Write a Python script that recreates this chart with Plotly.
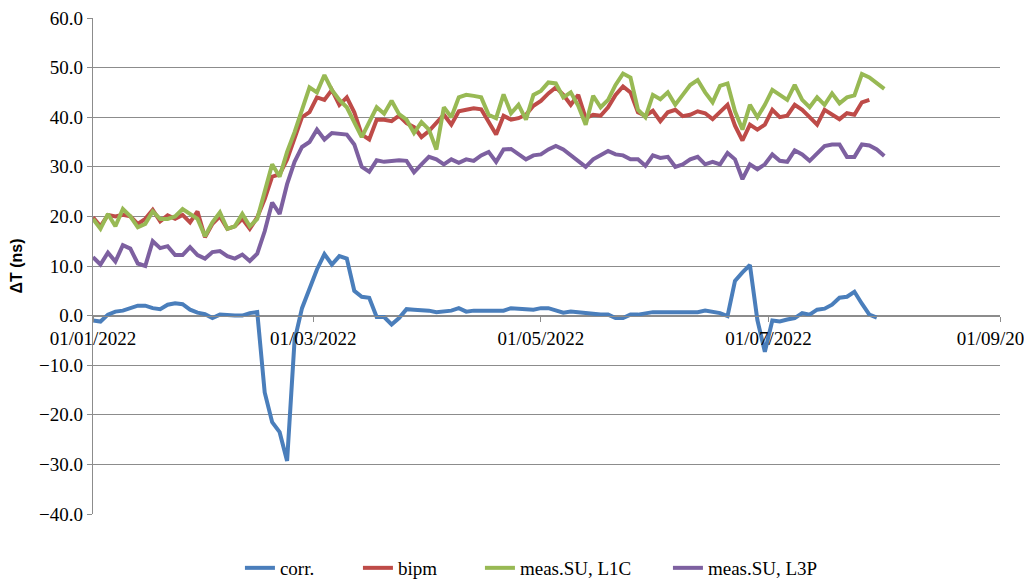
import pandas as pd
import plotly.graph_objects as go

# Values read every 2 days starting 01/01/2022
start_date = "2022-01-01"
step = "2D"

corr = [-1, -1.2, 0.2, 0.8, 1, 1.5, 2, 2, 1.5, 1.3,
        2.2, 2.5, 2.3, 1.2, 0.6, 0.3, -0.5, 0.2, 0, 0,
        0, 0.5, 0.7, -15.5, -21.5, -23.5, -29.3, -5, 1.5, 5.5,
        9.3, 12.4, 10.3, 12, 11.5, 5, 3.8, 3.6, -0.3, -0.3,
        -1.8, -0.5, 1.3, 1.2, 1.2, 1, 0.7, 0.8, 1, 1.5,
        0.8, 1, 1, 1, 1, 1, 1.5, 1.5, 1.3, 1.2,
        1.5, 1.5, 1, 0.6, 0.8, 0.6, 0.5, 0.3, 0.2, 0.2,
        -0.5, -0.5, 0.2, 0.2, 0.5, 0.7, 0.7, 0.7, 0.7, 0.5,
        0.6, 0.7, 1, 0.8, 0.5, -0.1, 7, 8.7, 10.2, -0.9,
        -7.3, -1, -1.2, -0.8, -0.5, 0.5, 0.2, 1.2, 1.4, 2.2,
        3.6, 3.8, 4.8, 2.4, 0.2, -0.4]

bipm = [19.8, 18, 20.3, 20, 20.3, 20, 18.5, 19.5, 21.3, 19,
        20.2, 19.5, 20.3, 18.8, 21, 15.8, 18.5, 20, 17.5, 18,
        19.5, 17.5, 19.8, 23.5, 28, 28.5, 31.5, 35.5, 40, 41,
        44, 43.5, 45.5, 42.5, 44, 41, 36.5, 35.5, 39.5, 39.5,
        39.2, 40.3, 38.8, 38, 36, 37.2, 39, 40.5, 38.5, 41.2,
        41.5, 41.8, 41.6, 39, 36.5, 40.3, 39.5, 39.8, 40.5, 42.3,
        43.3, 44.8, 46, 44.5, 42.5, 44.5, 39.8, 40.5, 40.3, 42,
        44.5, 46.2, 45, 41, 40.3, 41.3, 39.2, 41, 41.5, 40.2,
        40.5, 41.2, 40.8, 39.6, 41, 42.5, 38.3, 35.3, 38.5, 37.5,
        38.5, 41.5, 40, 40.3, 42.5, 41.5, 40, 38.5, 41.5, 40.5,
        39.6, 40.8, 40.5, 43, 43.5]

meas_l1c = [19.5, 17.5, 20.5, 18, 21.5, 20, 17.8, 18.5, 21, 19.5,
            19.5, 20, 21.5, 20.5, 19.5, 16, 18.8, 20.8, 17.5, 18,
            20.5, 18, 19.5, 25, 30.5, 28, 33, 37, 41.5, 46,
            45, 48.5, 45.5, 43.5, 42, 39, 36, 39, 42, 40.7,
            43.3, 40.6, 39.5, 36.8, 39, 37.5, 33.5, 42, 40, 44,
            44.5, 44.3, 44, 40.5, 39.8, 44.6, 40.8, 42.5, 39.5, 44.5,
            45.3, 47, 46.8, 44, 45, 42.3, 38.5, 44.3, 42, 43.5,
            46.5, 48.8, 48, 41.5, 40, 44.5, 43.6, 45, 42.5, 44.5,
            46.5, 47.5, 45, 43, 46.3, 46.8, 41.2, 37.5, 42.5, 40,
            42.5, 45.5, 44.6, 43.5, 46.5, 43.5, 42, 44, 42.5, 44.8,
            42.8, 44, 44.4, 48.7, 48, 46.8, 45.7]

meas_l3p = [11.8, 10.3, 12.7, 10.9, 14.2, 13.5, 10.5, 10, 15, 13.6,
            14, 12.2, 12.2, 13.8, 12.2, 11.5, 12.8, 13, 12, 11.5,
            12.3, 11, 12.5, 17, 22.8, 20.5, 26.5, 31, 34, 35,
            37.5, 35.5, 36.8, 36.6, 36.5, 34.5, 30, 29, 31.3, 31,
            31.2, 31.3, 31.2, 28.9, 30.5, 32, 31.5, 30.5, 31.5, 30.8,
            31.5, 31.2, 32.3, 33, 31, 33.5, 33.6, 32.5, 31.5, 32.3,
            32.5, 33.5, 34.2, 33.5, 32.3, 31.2, 30, 31.5, 32.3, 33.2,
            32.5, 32.3, 31.5, 31.5, 30.2, 32.3, 31.8, 32, 30, 30.5,
            31.5, 32, 30.5, 31, 30.5, 32.8, 31.5, 27.5, 30.5, 29.5,
            30.5, 32.5, 31.2, 31, 33.3, 32.5, 31.2, 32.7, 34.2, 34.5,
            34.5, 32, 32, 34.5, 34.3, 33.5, 32.2]

names = ["corr.", "bipm", "meas.SU, L1C", "meas.SU, L3P"]
colors = ["#4A7EBB", "#BE4B48", "#98B954", "#7D60A0"]
legend_widths = [73, 77, 143, 110]
series = [corr, bipm, meas_l1c, meas_l3p]

dates = pd.date_range(start_date, periods=max(len(s) for s in series), freq=step)

SERIF = "Liberation Serif, Times New Roman, Times, serif"
SANS = "Liberation Sans, Arial, sans-serif"

fig = go.Figure()
for name, vals, col, lw in zip(names, series, colors, legend_widths):
    fig.add_trace(go.Scatter(
        x=dates[:len(vals)], y=vals, mode="lines", name=name,
        line=dict(color=col, width=4), legendwidth=lw,
    ))

grid = "#8c8c8c"
fig.update_layout(
    template="none",
    width=1024, height=573,
    margin=dict(l=85, r=32, t=10, b=67, autoexpand=False),
    paper_bgcolor="white", plot_bgcolor="white",
    font=dict(family=SERIF, size=19, color="black"),
    showlegend=True,
    legend=dict(orientation="h", xref="container", yref="container",
                x=0.2265, xanchor="left", y=0.0227, yanchor="middle",
                font=dict(family=SERIF, size=19, color="black"),
                bgcolor="rgba(0,0,0,0)", borderwidth=0),
    xaxis=dict(
        type="date", range=["2022-01-01", "2022-09-01"],
        tick0="2022-01-01", dtick="M2", tickformat="%d/%m/%Y",
        showgrid=False, zeroline=False, automargin=False,
        ticklabeloverflow="allow",
        showline=True, linecolor=grid, linewidth=1.3,
        ticks="outside", ticklen=5, tickcolor=grid, tickwidth=1.3,
        anchor="free", position=0.4,
        tickfont=dict(family=SERIF, size=19, color="black"),
    ),
    yaxis=dict(
        range=[-40, 60], dtick=10, tick0=0, tickformat=".1f",
        showgrid=True, gridcolor=grid, gridwidth=1.3, zeroline=False,
        automargin=False, ticklabeloverflow="allow",
        showline=True, linecolor=grid, linewidth=1.3,
        ticks="outside", ticklen=5, tickcolor=grid, tickwidth=1.3,
        tickfont=dict(family=SERIF, size=19, color="black"),
        title=dict(text="<b>ΔT (ns)</b>", standoff=12,
                   font=dict(family=SANS, size=16, color="black")),
    ),
)

fig.write_html("out.html", config={"displayModeBar": False})
